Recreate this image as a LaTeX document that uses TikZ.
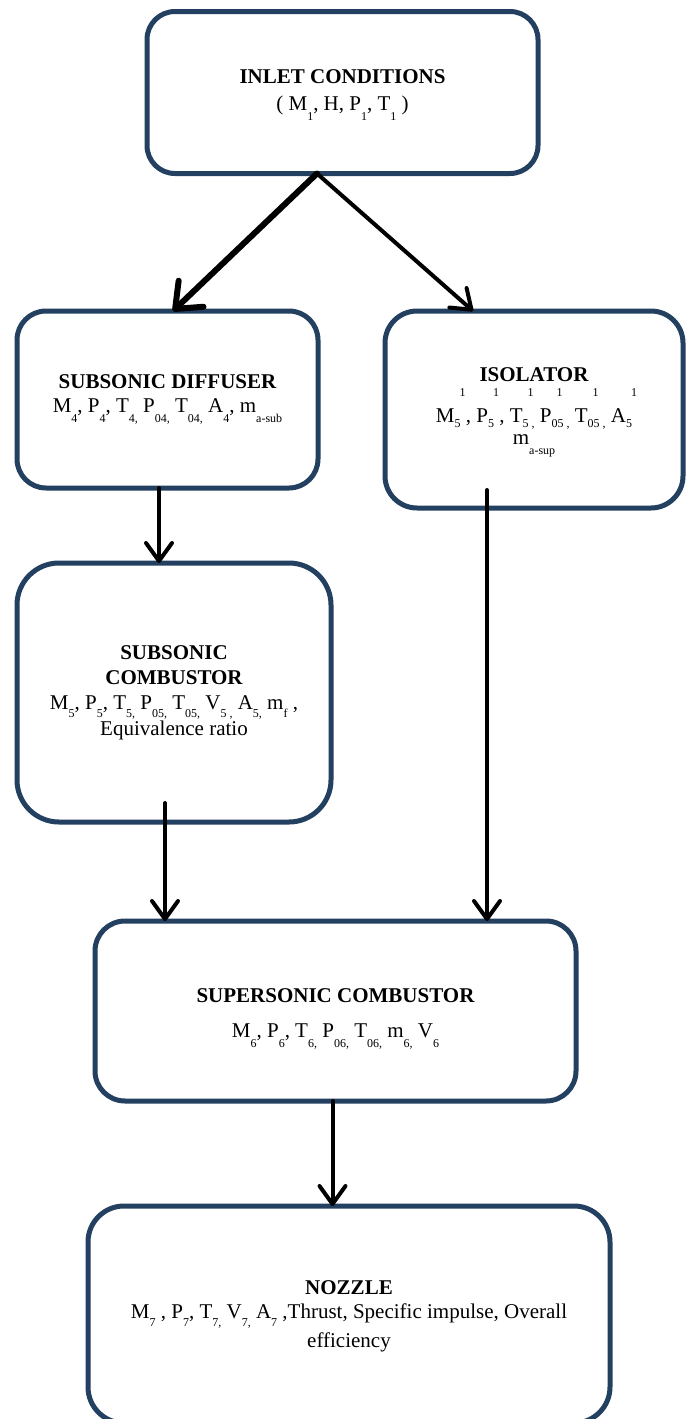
\documentclass[tikz,border=0pt]{standalone}
\usepackage{fontspec}
\setmainfont{Liberation Serif}
\usetikzlibrary{arrows.meta,calc}
\definecolor{boxblue}{RGB}{36,64,97}
\newcommand\dn[1]{\smash{\raisebox{-10pt}{\fontsize{12}{12}\selectfont #1}}}
\newcommand\dnc[1]{\smash{\raisebox{-8pt}{\fontsize{12}{12}\selectfont #1}}}
\newcommand\ud[2]{\smash{\rlap{\hspace{5pt}\raisebox{26pt}{\fontsize{12}{12}\selectfont #1}}\raisebox{-5pt}{\fontsize{12}{12}\selectfont #2}}}
\tikzset{
  box/.style={draw=boxblue, line width=5pt, rectangle, outer sep=0pt, inner sep=0pt},
  label/.style={anchor=north, inner sep=0pt, align=center, font=\fontsize{21}{24}\selectfont},
  arr/.style={draw=black, line width=4pt, line cap=round, -{Straight Barb[length=18pt,width=26pt,round]}},
}
\begin{document}
\begin{tikzpicture}[x=1pt,y=-1pt]
\useasboundingbox (0,0) rectangle (690,1419);
\fill[white] (0,0) rectangle (690,1419);
\clip (0,0) rectangle (690,1419);

\node[box, minimum width=391pt, minimum height=162pt, rounded corners=28pt] (inlet) at (342.5,92.5) {};
\node[box, minimum width=301pt, minimum height=177pt, rounded corners=29pt] (diff) at (167.5,399.5) {};
\node[box, minimum width=298pt, minimum height=197pt, rounded corners=32pt] (iso) at (534,409.5) {};
\node[box, minimum width=314pt, minimum height=259pt, rounded corners=42pt] (comb) at (174,692.5) {};
\node[box, minimum width=481pt, minimum height=180pt, rounded corners=30pt] (super) at (335.5,1011) {};
\node[box, minimum width=522pt, minimum height=217pt, rounded corners=36pt] (noz) at (349,1314.5) {};

\node[label] (tinlet) at (342.5,69) {\bfseries INLET CONDITIONS\\[3pt]( M\dn{1}, H, P\dn{1}, T\dn{1} )};
\node[label] (tdiff) at (167.5,374) {\bfseries SUBSONIC DIFFUSER\\M\dn{4}, P\dn{4}, T\dn{4,} P\dn{04,} T\dn{04,} A\dn{4}, m\dn{a-sub}};
\node[label] (tiso) at (534,367) {\bfseries ISOLATOR\\[17pt]M\ud{1}{5} , P\ud{1}{5} , T\ud{1}{5 ,} P\ud{1}{05 ,} T\ud{1}{05 ,} A\ud{1}{5}\\[-2pt]m\dn{a-sup}};
\node[label] (tcomb) at (174,645) {\bfseries SUBSONIC\\[1pt]\bfseries COMBUSTOR\\[1pt]M\dnc{5}, P\dnc{5}, T\dnc{5,} P\dnc{05,} T\dnc{05,} V\dnc{5 ,} A\dnc{5,} m\dnc{f} ,\\[2pt]Equivalence ratio};
\node[label] (tsuper) at (335.5,988) {\bfseries SUPERSONIC COMBUSTOR\\[11pt]M\dn{6}, P\dn{6}, T\dn{6,} P\dn{06,} T\dn{06,} m\dn{6,} V\dn{6}};
\node[label] (tnoz) at (349,1280) {\bfseries NOZZLE\\M\dnc{7} , P\dnc{7}, T\dnc{7,} V\dnc{7,} A\dnc{7} ,Thrust, Specific impulse, Overall\\[5pt]efficiency};

\coordinate (top) at ([xshift=-25.5pt]inlet.south);
\draw[arr, line width=6pt, -{Straight Barb[length=22pt,width=36pt,round]}] (top) -- ([xshift=5.5pt]diff.north);
\draw[arr] (top) -- ([xshift=-61pt]iso.north);
\coordinate (d1) at ([xshift=-8.5pt]diff.south);
\draw[arr] (d1) -- (d1 |- comb.north);
\coordinate (c1) at ([xshift=-9pt,yshift=19pt]comb.south);
\draw[arr] (c1) -- (c1 |- super.north);
\coordinate (i1) at ([xshift=-47pt,yshift=18pt]iso.south);
\draw[arr] (i1) -- (i1 |- super.north);
\coordinate (s1) at ([xshift=-3pt]super.south);
\draw[arr] (s1) -- (s1 |- noz.north);
\end{tikzpicture}
\end{document}
